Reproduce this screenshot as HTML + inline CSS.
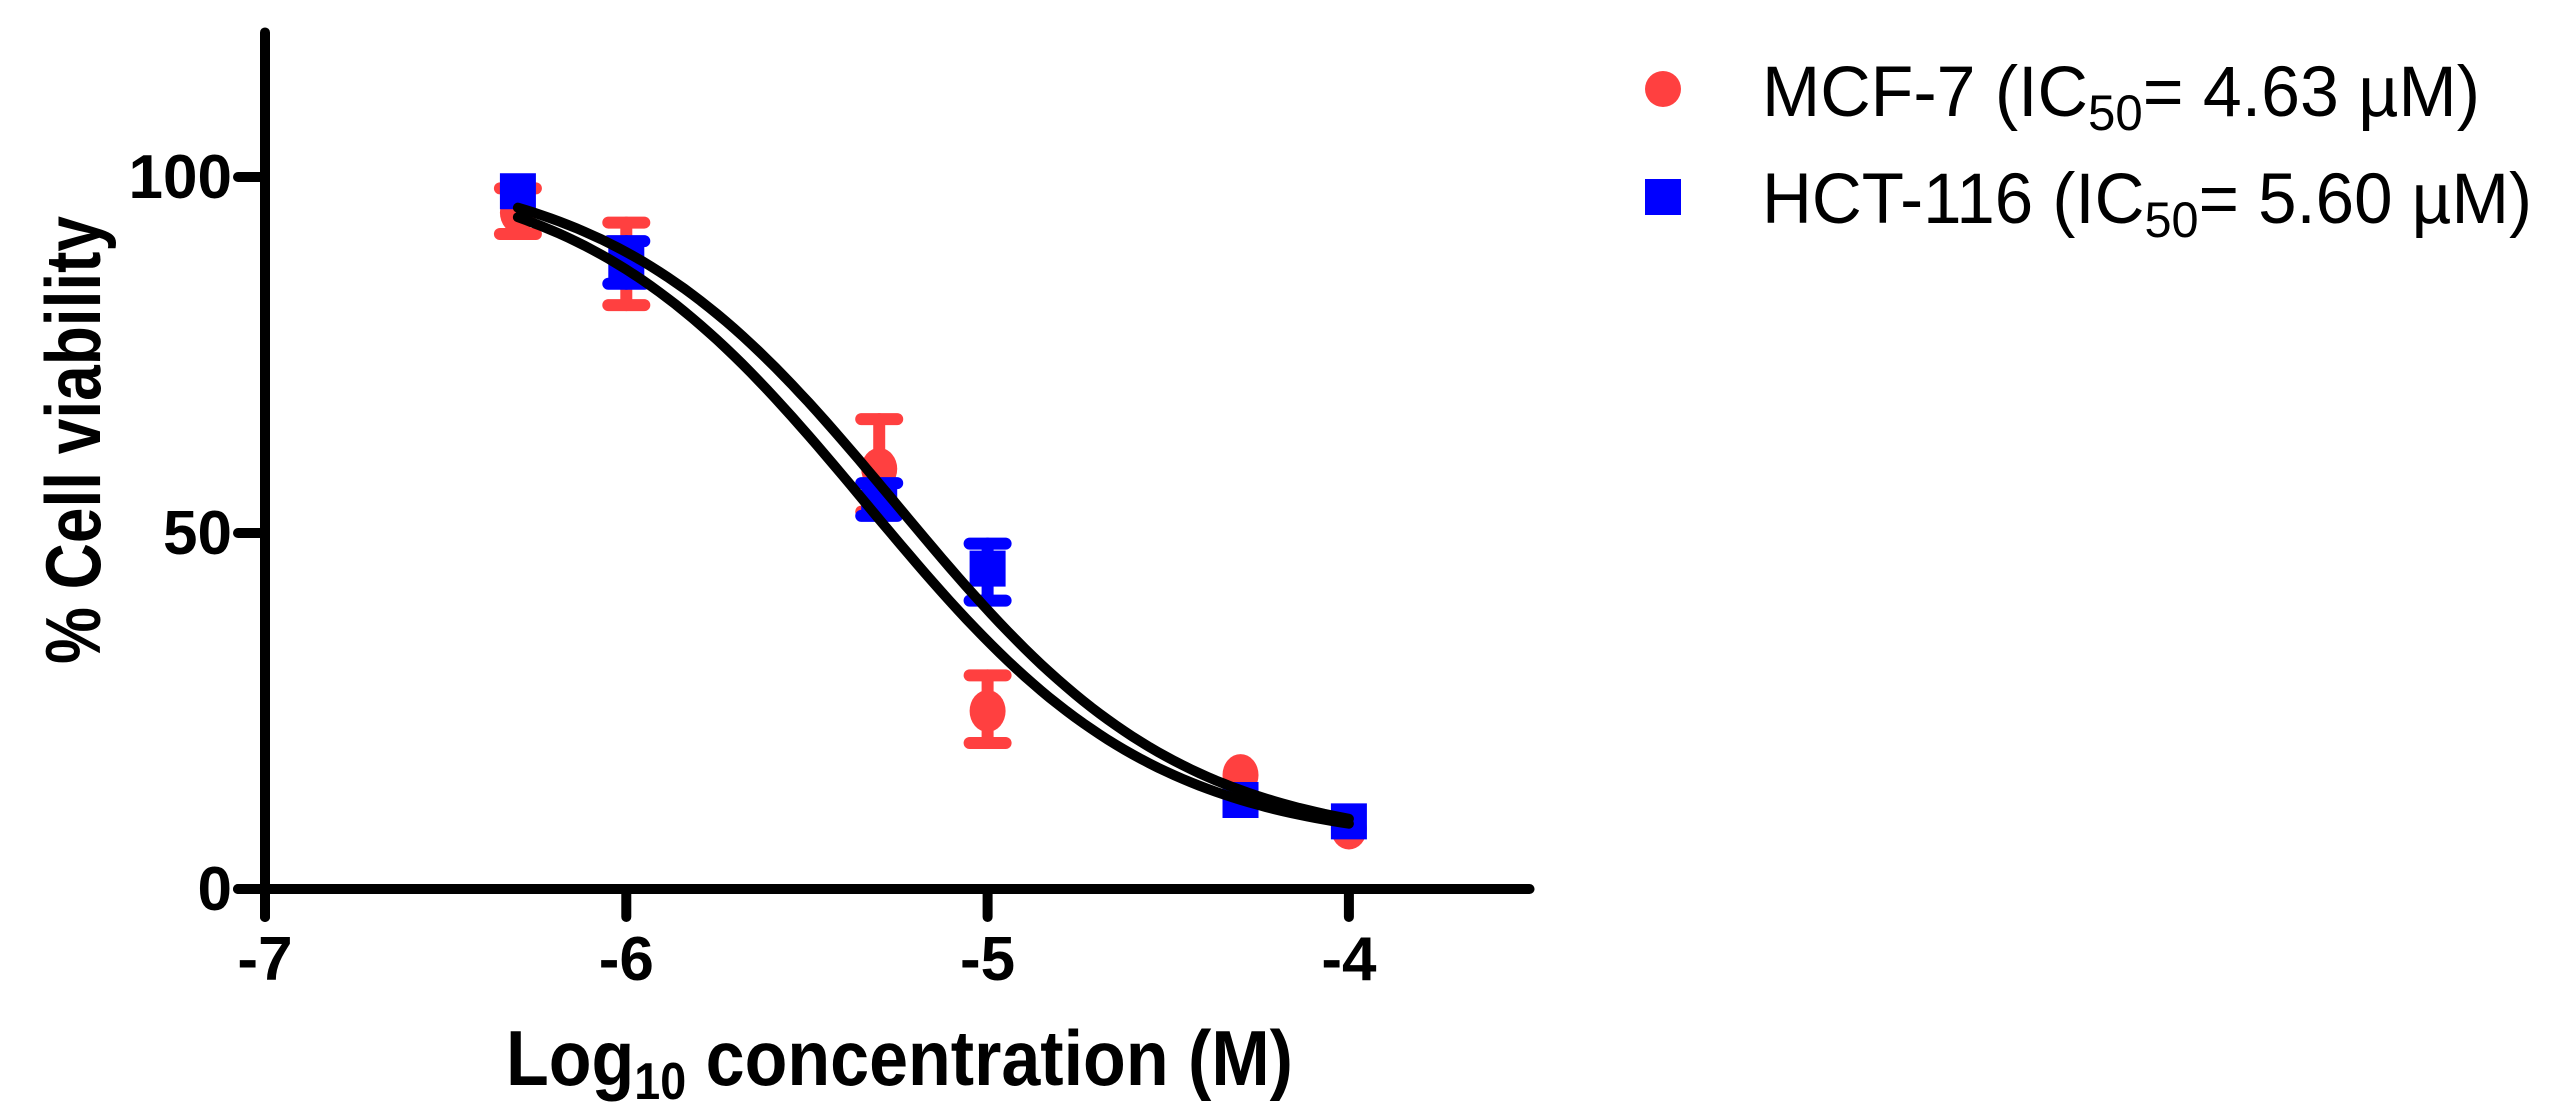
<!DOCTYPE html>
<html><head><meta charset="utf-8"><style>
html,body{margin:0;padding:0;background:#fff;}
svg{display:block;}
.tk{font-family:"Liberation Sans Narrow","Liberation Sans",sans-serif;font-weight:bold;font-size:62px;fill:#000;}
.lg{font-family:"Liberation Sans",sans-serif;font-size:71px;fill:#000;}
.ti{font-family:"Liberation Sans Narrow","Liberation Sans",sans-serif;font-weight:bold;font-size:78px;fill:#000;}
</style></head><body>
<svg id="chart" width="2557" height="1117" viewBox="0 0 2557 1117" xmlns="http://www.w3.org/2000/svg">
<g id="axes"></g>
<g id="marks"></g>
<text class="ti" transform="translate(100,440) rotate(-90)" text-anchor="middle" textLength="448" lengthAdjust="spacingAndGlyphs">%  Cell viability</text>
<text class="ti" x="506" y="1085" textLength="787" lengthAdjust="spacingAndGlyphs">Log<tspan font-size="52" dy="14">10</tspan><tspan dy="-14"> concentration (M)</tspan></text>
<g>
<circle cx="1663" cy="89" r="18" fill="#ff4040"/>
<text class="lg" x="1762" y="116" textLength="718" lengthAdjust="spacingAndGlyphs">MCF-7 (IC<tspan font-size="50" dy="14">50</tspan><tspan dy="-14">= 4.63 µM)</tspan></text>
<rect x="1645" y="179" width="36" height="36" fill="#0000ff"/>
<text class="lg" x="1762" y="223" textLength="770" lengthAdjust="spacingAndGlyphs">HCT-116 (IC<tspan font-size="50" dy="14">50</tspan><tspan dy="-14">= 5.60 µM)</tspan></text>
</g>
</svg>
<script>
const xTicks = [-7, -6, -5, -4];
const yTicks = [0, 50, 100];
const concentrations = [-6.3, -6.0, -5.3, -5.0, -4.3, -4.0];
const mcfMean = [95, 88, 59, 25, 16, 8.5];
const mcfLow = [92, 82, 53, 20.5, 16, 8.5];
const mcfHigh = [98.4, 93.6, 66, 30, 16, 8.5];
const hctMean = [98, 88, 55, 45, 12.5, 9.5];
const hctLow = [98, 85, 52.4, 40.5, 12.5, 9.5];
const hctHigh = [98, 91, 57, 48.5, 12.5, 9.5];
const mcfFit = [102, 6, -5.334, 1.1];
const hctFit = [102, 6, -5.252, 1.1];

const NS = "http://www.w3.org/2000/svg";
const X = v => 265 + (v + 7) * 361.3;
const Y = v => 889 - v * 7.12;
function mk(tag, attrs, parent){const e=document.createElementNS(NS,tag);for(const k in attrs)e.setAttribute(k,attrs[k]);parent.appendChild(e);return e;}
const axes=document.getElementById('axes'), marks=document.getElementById('marks');

let a=mk('line',{x1:X(-7),y1:Y(120.3),x2:X(-7),y2:917,stroke:'#000','stroke-width':10,'stroke-linecap':'round'},axes);


a=mk('line',{x1:238,y1:Y(0),x2:X(-3.5),y2:Y(0),stroke:'#000','stroke-width':10,'stroke-linecap':'round'},axes);


xTicks.forEach(t=>{
  const l=mk('line',{x1:X(t),y1:Y(0),x2:X(t),y2:917,stroke:'#000','stroke-width':10,'stroke-linecap':'round'},axes);
  
  
  const s=mk('text',{x:X(t),y:980,'text-anchor':'middle',class:'tk'},axes);s.textContent=String(t);
  
  
});
yTicks.forEach(t=>{
  const l=mk('line',{x1:238,y1:Y(t),x2:X(-7),y2:Y(t),stroke:'#000','stroke-width':10,'stroke-linecap':'round'},axes);
  
  
  const s=mk('text',{x:232,y:Y(t)+21,'text-anchor':'end',class:'tk'},axes);s.textContent=String(t);
  
  
});

function errs(mean,lo,hi,color,name){
  concentrations.forEach((c,i)=>{
    if(hi[i]-lo[i]<0.5) return;
    const g=mk('g',{stroke:color,'stroke-width':12,'stroke-linecap':'round'},marks);
    
    
    mk('line',{x1:X(c),y1:Y(lo[i]),x2:X(c),y2:Y(hi[i])},g);
    mk('line',{x1:X(c)-18,y1:Y(lo[i]),x2:X(c)+18,y2:Y(lo[i])},g);
    mk('line',{x1:X(c)-18,y1:Y(hi[i]),x2:X(c)+18,y2:Y(hi[i])},g);
  });
}
errs(mcfMean,mcfLow,mcfHigh,'#ff4040','mcf7');
concentrations.forEach((c,i)=>{
  const p=mk('ellipse',{cx:X(c),cy:Y(mcfMean[i]),rx:18,ry:21,fill:'#ff4040'},marks);
  
  
});
errs(hctMean,hctLow,hctHigh,'#0000ff','hct116');
concentrations.forEach((c,i)=>{
  const p=mk('rect',{x:X(c)-18,y:Y(hctMean[i])-18,width:36,height:36,fill:'#0000ff'},marks);
  
  
});
function curve(f,name){
  let d='';
  for(let k=0;k<=100;k++){
    const x=-6.3+k*(2.3/100);
    const y=f[1]+(f[0]-f[1])/(1+Math.pow(10,(x-f[2])*f[3]));
    d+=(k?'L':'M')+X(x).toFixed(1)+','+Y(y).toFixed(1);
  }
  const p=mk('path',{d:d,fill:'none',stroke:'#000','stroke-width':10,'stroke-linecap':'round'},marks);
  
  
}
curve(mcfFit,'mcf7-fit-curve');
curve(hctFit,'hct116-fit-curve');
</script>
</body></html>
